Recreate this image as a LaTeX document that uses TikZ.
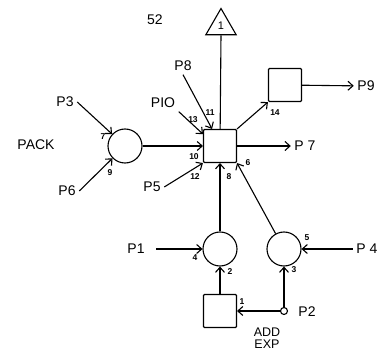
\documentclass[tikz,border=0pt]{standalone}
\usepackage{fontspec}
\setmainfont{Liberation Sans}
\usetikzlibrary{arrows.meta,shapes.geometric}
\tikzset{
  place/.style={circle, draw, line width=1.1pt, minimum size=34pt, inner sep=0pt},
  trans/.style={draw, line width=1.1pt, rounded corners=1pt, minimum size=33pt, inner sep=0pt},
  tri/.style={regular polygon, regular polygon sides=3, draw, line width=1.1pt, minimum size=35pt, inner sep=0pt, font=\fontsize{11}{11}\selectfont},
  dot/.style={circle, draw, line width=1.1pt, minimum size=7pt, inner sep=0pt, fill=white},
  lbl/.style={inner sep=3.5pt, font=\fontsize{14}{14}\selectfont},
  num/.style={inner sep=0pt, font=\fontsize{8.5}{8.5}\selectfont\bfseries},
  arc/.style={-{Straight Barb[length=5pt,width=9pt]}, line width=1.1pt},
  link/.style={line width=1.1pt}
}
\begin{document}
\begin{tikzpicture}[x=1pt,y=-1pt]
  \useasboundingbox (0,0) rectangle (381,353);
  % places, transitions
  \node[trans] (sq) at (220,146) {};
  \node[trans] (tr) at (285,85) {};
  \node[trans] (bs) at (220,311) {};
  \node[place] (lc) at (125,146) {};
  \node[place] (bc) at (220,249) {};
  \node[place] (rc) at (284,249) {};
  \node[dot] (p2dot) at (284,311) {};
  \node[tri] (tri) at (221,26) {1};
  % labels
  \node[lbl] at (155,20) {52};
  \node[lbl] (p3) at (65,102) {P3};
  \node[lbl] (p6) at (67,191) {P6};
  \node[lbl] at (36,145) {PACK};
  \node[lbl] (p10) at (163,103) {PIO};
  \node[lbl] (p8) at (183,66) {P8};
  \node[lbl] (p5) at (152,187) {P5};
  \node[lbl] (p7) at (305,146) {P 7};
  \node[lbl] (p9) at (366,86) {P9};
  \node[lbl] (p1) at (136,249) {P1};
  \node[lbl] (p4) at (367,249) {P 4};
  \node[lbl] (p2) at (307,312) {P2};
  \node[lbl, align=center, inner sep=0pt, font=\fontsize{12.5}{12.5}\selectfont] at (267,338) {ADD\\EXP};
  % arcs
  \draw[arc] (p3.east) -- (lc);
  \draw[arc] (p6.east) -- (lc);
  \draw[arc] (lc) -- (sq);
  \draw[arc] (p10.south east) -- (sq.145);
  \draw[arc] (p8.south) -- (sq.115);
  \draw[arc] (p5.east) -- (sq.south west);
  \draw[arc] (bc) -- (sq);
  \draw[arc] (rc) -- (sq.south east);
  \draw[arc] (sq) -- (p7);
  \draw[arc] (sq.north east) -- (tr.south west);
  \draw[arc] (tr) -- (p9);
  \draw[link] (tri.south) -- (sq);
  \draw[arc, shorten <=8pt] (p1) -- (bc);
  \draw[arc] (p4) -- (rc);
  \draw[arc] (bs) -- (bc);
  \draw[arc] (p2dot) -- (rc);
  \draw[arc] (p2dot) -- (bs);
  % arc numbers
  \node[num] at (103,137) {7};
  \node[num] at (110,173) {9};
  \node[num] at (193,120) {13};
  \node[num] at (210,113) {11};
  \node[num] at (194,157) {10};
  \node[num] at (195,177) {12};
  \node[num] at (229,177) {8};
  \node[num] at (248,163) {6};
  \node[num] at (275,113) {14};
  \node[num] at (195,258) {4};
  \node[num] at (230,272) {2};
  \node[num] at (294,270) {3};
  \node[num] at (307,238) {5};
  \node[num] at (242,302) {1};
\end{tikzpicture}
\end{document}
